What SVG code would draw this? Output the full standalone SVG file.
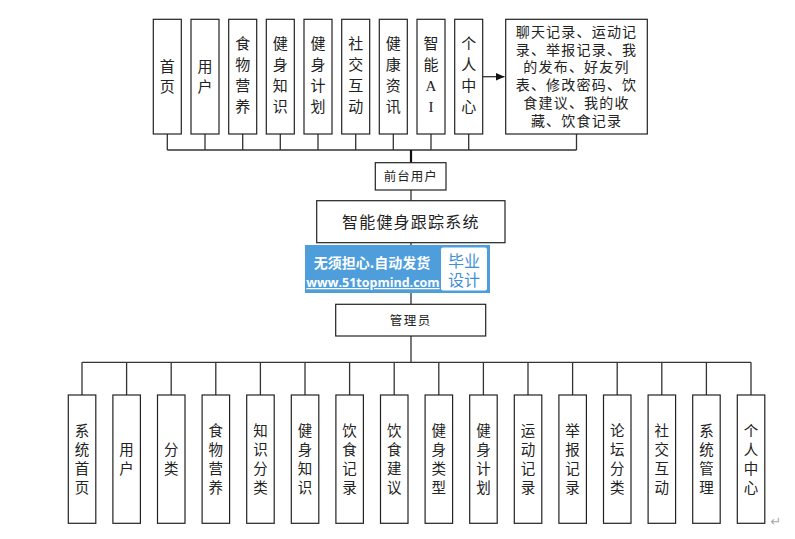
<svg xmlns="http://www.w3.org/2000/svg" width="795" height="539" viewBox="0 0 795 539">
<style>
.box{fill:#fff;stroke:#222;stroke-width:1.2}
.ln{fill:none;stroke:#333;stroke-width:1.3}
.t{font-family:"Noto Sans CJK SC","Noto Sans",sans-serif;fill:#222;text-anchor:middle}
.v{font-size:15px}
.vb{font-size:14.5px}
.lat{font-family:"Liberation Serif",serif}
</style>
<defs>
<marker id="ah" markerWidth="10" markerHeight="10" refX="9" refY="5" orient="auto" markerUnits="userSpaceOnUse">
<path d="M0,1 L9,5 L0,9 Z" fill="#111"/>
</marker>
</defs>
<rect width="795" height="539" fill="#fff"/>

<g id="connectors">
<!-- top bus -->
<path class="ln" d="M167.3,134V150M205,134V150M242.7,134V150M280.3,134V150M318,134V150M355.7,134V150M393.3,134V150M431,134V150M468.7,134V150M576.5,134V150M167.3,150H576.5"/>
<path d="M411,150V162.7" stroke="#111" stroke-width="2.2" fill="none"/>
<path class="ln" d="M411,190V200.7M411,242.7V304.3M411,336V362.3"/>
<path class="ln" d="M482.7,76.7H504.5" marker-end="url(#ah)"/>
<!-- bottom bus -->
<path class="ln" d="M82,362.3H751M82,362.3V395M126.6,362.3V395M171.2,362.3V395M215.8,362.3V395M260.4,362.3V395M305,362.3V395M349.6,362.3V395M394.2,362.3V395M438.8,362.3V395M483.4,362.3V395M528,362.3V395M572.6,362.3V395M617.2,362.3V395M661.8,362.3V395M706.4,362.3V395M751,362.3V395"/>
</g>

<g id="top-nodes">
<g id="n-shouye"><rect class="box" x="153.3" y="19.3" width="28" height="114.7"/><text class="t v" x="167.3"><tspan x="167.3" y="72.4">首</tspan><tspan x="167.3" y="92.4">页</tspan></text></g>
<g id="n-yonghu"><rect class="box" x="191" y="19.3" width="28" height="114.7"/><text class="t v" x="205"><tspan x="205" y="72.4">用</tspan><tspan x="205" y="92.4">户</tspan></text></g>
<g id="n-shiwu"><rect class="box" x="228.7" y="19.3" width="28" height="114.7"/><text class="t v"><tspan x="242.7" y="49.2">食</tspan><tspan x="242.7" y="70.2">物</tspan><tspan x="242.7" y="91.2">营</tspan><tspan x="242.7" y="112.2">养</tspan></text></g>
<g id="n-jszs"><rect class="box" x="266.3" y="19.3" width="28" height="114.7"/><text class="t v"><tspan x="280.3" y="49.2">健</tspan><tspan x="280.3" y="70.2">身</tspan><tspan x="280.3" y="91.2">知</tspan><tspan x="280.3" y="112.2">识</tspan></text></g>
<g id="n-jsjh"><rect class="box" x="304" y="19.3" width="28" height="114.7"/><text class="t v"><tspan x="318" y="49.2">健</tspan><tspan x="318" y="70.2">身</tspan><tspan x="318" y="91.2">计</tspan><tspan x="318" y="112.2">划</tspan></text></g>
<g id="n-sjhd"><rect class="box" x="341.7" y="19.3" width="28" height="114.7"/><text class="t v"><tspan x="355.7" y="49.2">社</tspan><tspan x="355.7" y="70.2">交</tspan><tspan x="355.7" y="91.2">互</tspan><tspan x="355.7" y="112.2">动</tspan></text></g>
<g id="n-jkzx"><rect class="box" x="379.3" y="19.3" width="28" height="114.7"/><text class="t v"><tspan x="393.3" y="49.2">健</tspan><tspan x="393.3" y="70.2">康</tspan><tspan x="393.3" y="91.2">资</tspan><tspan x="393.3" y="112.2">讯</tspan></text></g>
<g id="n-znai"><rect class="box" x="417" y="19.3" width="28" height="114.7"/><text class="t v"><tspan x="431" y="49.2">智</tspan><tspan x="431" y="70.2">能</tspan><tspan class="lat" x="431" y="90.5">A</tspan><tspan class="lat" x="431" y="111.5">I</tspan></text></g>
<g id="n-grzx"><rect class="box" x="454.7" y="19.3" width="28" height="114.7"/><text class="t v"><tspan x="468.7" y="49.2">个</tspan><tspan x="468.7" y="70.2">人</tspan><tspan x="468.7" y="91.2">中</tspan><tspan x="468.7" y="112.2">心</tspan></text></g>
<g id="n-detail"><rect class="box" x="505.7" y="19.3" width="141.6" height="114.7"/>
<text class="t" style="font-size:14px;letter-spacing:1.2px"><tspan x="576.5" y="36.8">聊天记录、运动记</tspan><tspan x="576.5" y="54.6">录、举报记录、我</tspan><tspan x="576.5" y="72.4">的发布、好友列</tspan><tspan x="576.5" y="90.2">表、修改密码、饮</tspan><tspan x="576.5" y="108">食建议、我的收</tspan><tspan x="576.5" y="125.8">藏、饮食记录</tspan></text></g>
</g>

<g id="n-qiantai"><rect class="box" x="375.3" y="162.7" width="70.7" height="27.3"/><text class="t" x="410.7" y="181.2" style="font-size:12.5px;letter-spacing:1px">前台用户</text></g>
<g id="n-system"><rect class="box" x="316.7" y="200.7" width="188.3" height="42"/><text class="t" x="410.8" y="227.6" style="font-size:16px;letter-spacing:1.2px">智能健身跟踪系统</text></g>

<g id="watermark">
<rect x="305" y="245" width="185" height="48" fill="#4f9edc"/>
<rect x="441" y="247.5" width="46" height="43" rx="2" fill="#fff"/>
<text x="372" y="268" style="font-family:'Noto Sans CJK SC',sans-serif;font-size:14px;font-weight:bold;fill:#fff;text-anchor:middle">无须担心.自动发货</text>
<text x="373" y="287" style="font-family:'Open Sans','Liberation Sans',sans-serif;font-size:12.5px;font-weight:bold;fill:#fff;text-anchor:middle;text-decoration:underline">www.51topmind.com</text>
<text x="464" y="266.5" style="font-family:'Noto Sans CJK SC',sans-serif;font-size:16px;fill:#3f90d6;text-anchor:middle">毕业</text>
<text x="464" y="286" style="font-family:'Noto Sans CJK SC',sans-serif;font-size:16px;fill:#3f90d6;text-anchor:middle">设计</text>
</g>

<g id="n-admin"><rect class="box" x="335.7" y="304.3" width="150" height="31.7"/><text class="t" x="410.7" y="324.6" style="font-size:12.5px;letter-spacing:1.5px">管理员</text></g>

<g id="bottom-nodes">
<g id="b1"><rect class="box" x="68.3" y="395" width="27.5" height="128.3"/><text class="t vb"><tspan x="82" y="436">系</tspan><tspan x="82" y="455">统</tspan><tspan x="82" y="474">首</tspan><tspan x="82" y="493">页</tspan></text></g>
<g id="b2"><rect class="box" x="112.9" y="395" width="27.5" height="128.3"/><text class="t vb"><tspan x="126.6" y="455">用</tspan><tspan x="126.6" y="474">户</tspan></text></g>
<g id="b3"><rect class="box" x="157.5" y="395" width="27.5" height="128.3"/><text class="t vb"><tspan x="171.2" y="455">分</tspan><tspan x="171.2" y="474">类</tspan></text></g>
<g id="b4"><rect class="box" x="202.1" y="395" width="27.5" height="128.3"/><text class="t vb"><tspan x="215.8" y="436">食</tspan><tspan x="215.8" y="455">物</tspan><tspan x="215.8" y="474">营</tspan><tspan x="215.8" y="493">养</tspan></text></g>
<g id="b5"><rect class="box" x="246.7" y="395" width="27.5" height="128.3"/><text class="t vb"><tspan x="260.4" y="436">知</tspan><tspan x="260.4" y="455">识</tspan><tspan x="260.4" y="474">分</tspan><tspan x="260.4" y="493">类</tspan></text></g>
<g id="b6"><rect class="box" x="291.3" y="395" width="27.5" height="128.3"/><text class="t vb"><tspan x="305" y="436">健</tspan><tspan x="305" y="455">身</tspan><tspan x="305" y="474">知</tspan><tspan x="305" y="493">识</tspan></text></g>
<g id="b7"><rect class="box" x="335.9" y="395" width="27.5" height="128.3"/><text class="t vb"><tspan x="349.6" y="436">饮</tspan><tspan x="349.6" y="455">食</tspan><tspan x="349.6" y="474">记</tspan><tspan x="349.6" y="493">录</tspan></text></g>
<g id="b8"><rect class="box" x="380.5" y="395" width="27.5" height="128.3"/><text class="t vb"><tspan x="394.2" y="436">饮</tspan><tspan x="394.2" y="455">食</tspan><tspan x="394.2" y="474">建</tspan><tspan x="394.2" y="493">议</tspan></text></g>
<g id="b9"><rect class="box" x="425.1" y="395" width="27.5" height="128.3"/><text class="t vb"><tspan x="438.8" y="436">健</tspan><tspan x="438.8" y="455">身</tspan><tspan x="438.8" y="474">类</tspan><tspan x="438.8" y="493">型</tspan></text></g>
<g id="b10"><rect class="box" x="469.7" y="395" width="27.5" height="128.3"/><text class="t vb"><tspan x="483.4" y="436">健</tspan><tspan x="483.4" y="455">身</tspan><tspan x="483.4" y="474">计</tspan><tspan x="483.4" y="493">划</tspan></text></g>
<g id="b11"><rect class="box" x="514.3" y="395" width="27.5" height="128.3"/><text class="t vb"><tspan x="528" y="436">运</tspan><tspan x="528" y="455">动</tspan><tspan x="528" y="474">记</tspan><tspan x="528" y="493">录</tspan></text></g>
<g id="b12"><rect class="box" x="558.9" y="395" width="27.5" height="128.3"/><text class="t vb"><tspan x="572.6" y="436">举</tspan><tspan x="572.6" y="455">报</tspan><tspan x="572.6" y="474">记</tspan><tspan x="572.6" y="493">录</tspan></text></g>
<g id="b13"><rect class="box" x="603.5" y="395" width="27.5" height="128.3"/><text class="t vb"><tspan x="617.2" y="436">论</tspan><tspan x="617.2" y="455">坛</tspan><tspan x="617.2" y="474">分</tspan><tspan x="617.2" y="493">类</tspan></text></g>
<g id="b14"><rect class="box" x="648.1" y="395" width="27.5" height="128.3"/><text class="t vb"><tspan x="661.8" y="436">社</tspan><tspan x="661.8" y="455">交</tspan><tspan x="661.8" y="474">互</tspan><tspan x="661.8" y="493">动</tspan></text></g>
<g id="b15"><rect class="box" x="692.7" y="395" width="27.5" height="128.3"/><text class="t vb"><tspan x="706.4" y="436">系</tspan><tspan x="706.4" y="455">统</tspan><tspan x="706.4" y="474">管</tspan><tspan x="706.4" y="493">理</tspan></text></g>
<g id="b16"><rect class="box" x="737.3" y="395" width="27.5" height="128.3"/><text class="t vb"><tspan x="751" y="436">个</tspan><tspan x="751" y="455">人</tspan><tspan x="751" y="474">中</tspan><tspan x="751" y="493">心</tspan></text></g>
</g>

<text x="776" y="526" style="font-family:'DejaVu Sans',sans-serif;font-size:13px;fill:#aaa;text-anchor:middle">↵</text>
</svg>
